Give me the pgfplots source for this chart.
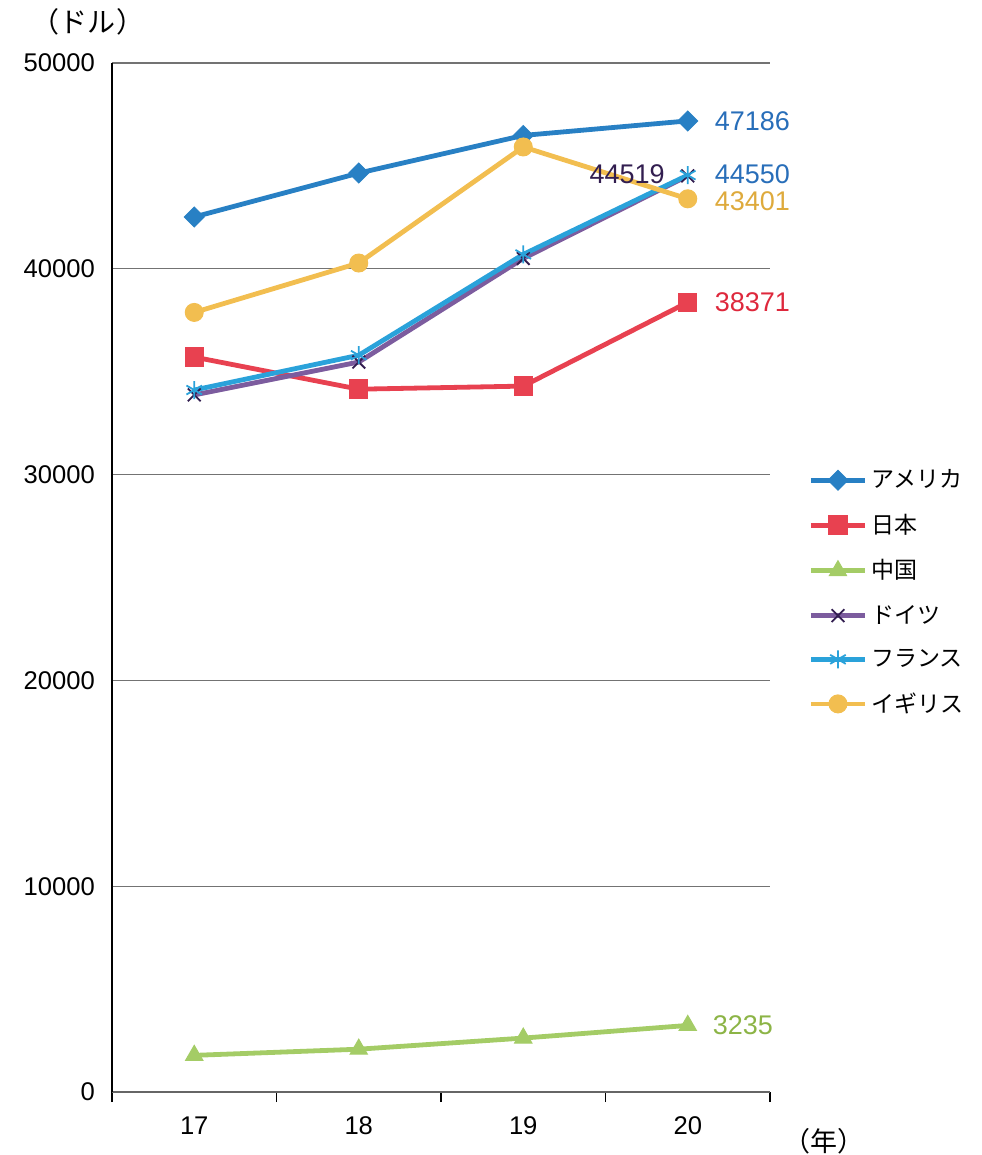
\documentclass[border=0pt]{standalone}
\usepackage{pgfplots}
\pgfplotsset{compat=1.18}
\usepackage{fontspec}
\setmainfont{Liberation Sans}
\newfontfamily\jp{Noto Sans CJK JP}
\definecolor{amer}{RGB}{40,128,196}
\definecolor{jpn}{RGB}{232,65,80}
\definecolor{chn}{RGB}{164,204,102}
\definecolor{ger}{RGB}{124,92,158}
\definecolor{fra}{RGB}{42,162,218}
\definecolor{uk}{RGB}{242,190,80}
\definecolor{lamer}{RGB}{40,110,185}
\definecolor{luk}{RGB}{222,170,60}
\definecolor{ljpn}{RGB}{222,40,60}
\definecolor{lchn}{RGB}{140,180,70}
\definecolor{lger}{RGB}{50,30,80}
\begin{document}
\begin{tikzpicture}
\path[use as bounding box] (-56pt,-31.5pt) rectangle (434.5pt,546pt);
\begin{axis}[
  at={(0,0)}, anchor=south west,
  scale only axis, width=329pt, height=514.5pt,
  xmin=16.5, xmax=20.5, ymin=0, ymax=50000,
  xtick={17,18,19,20},
  minor xtick={16.5,17.5,18.5,19.5,20.5},
  ytick={0,10000,20000,30000,40000,50000},
  scaled ticks=false,
  /pgf/number format/assume math mode=true,
  /pgf/number format/set thousands separator={},
  axis lines*=left,
  x axis line style={draw=gray!80!black, line width=0.6pt},
  y axis line style={draw=black, line width=0.6pt},
  ymajorgrids,
  major grid style={draw=gray!90!black, line width=0.6pt},
  tick align=outside,
  major tick length=0pt,
  minor tick length=5pt,
  minor tick style={draw=black, line width=0.6pt},
  ticklabel style={font=\fontsize{12.8}{15}\selectfont},
  yticklabel style={xshift=-5pt},
  xticklabel style={yshift=-9pt},
  clip=false,
  legend cell align=left,
  legend style={at={(1.058,0.609)}, anchor=north west, draw=none, fill=none,
    font=\jp\fontsize{11.5}{14}\selectfont, row sep=7.6pt, inner sep=0pt},
  legend image code/.code={\draw[mark repeat=2,mark phase=2] plot coordinates {(0pt,0pt)(13.5pt,0pt)(27pt,0pt)};},
  every axis plot/.append style={line width=2.4pt},
]
\addplot[color=amer, mark=square*, mark size=3.5pt, mark options={rotate=45, line width=0.5pt}]
  coordinates {(17,42520) (18,44650) (19,46480) (20,47186)};
\addlegendentry{アメリカ}
\addplot[color=jpn, mark=square*, mark size=4.6pt, mark options={line width=0.5pt}]
  coordinates {(17,35710) (18,34150) (19,34300) (20,38371)};
\addlegendentry{日本}
\addplot[color=chn, mark=triangle*, mark size=5pt, mark options={line width=0.5pt}]
  coordinates {(17,1780) (18,2080) (19,2620) (20,3235)};
\addlegendentry{中国}
\addplot[color=ger, mark=x, mark size=4.5pt, mark options={draw=lger, line width=0.9pt}]
  coordinates {(17,33870) (18,35470) (19,40500) (20,44519)};
\addlegendentry{ドイツ}
\addplot[color=fra, mark=asterisk, mark size=4.5pt, mark options={line width=0.9pt}]
  coordinates {(17,34110) (18,35800) (19,40700) (20,44550)};
\addlegendentry{フランス}
\addplot[color=uk, mark=*, mark size=4.5pt, mark options={line width=0.5pt}]
  coordinates {(17,37880) (18,40280) (19,45920) (20,43401)};
\addlegendentry{イギリス}
\begin{scope}[every node/.style={font=\fontsize{13.5}{16}\selectfont}]
\node[anchor=west, text=lamer, xshift=10pt] at (axis cs:20,47186) {47186};
\node[anchor=west, text=lamer, xshift=10pt] at (axis cs:20,44600) {44550};
\node[anchor=west, text=luk, xshift=10pt] at (axis cs:20,43300) {43401};
\node[anchor=west, text=ljpn, xshift=10pt] at (axis cs:20,38371) {38371};
\node[anchor=west, text=lchn, xshift=9pt] at (axis cs:20,3235) {3235};
\node[anchor=east, text=lger, xshift=-8pt] at (axis cs:20,44600) {44519};
\end{scope}
\end{axis}
\node[font=\jp\fontsize{14}{16}\selectfont] at (-12pt,535pt) {（ドル）};
\node[font=\jp\fontsize{13.5}{16}\selectfont] at (356pt,-24.5pt) {（年）};
\end{tikzpicture}
\end{document}
